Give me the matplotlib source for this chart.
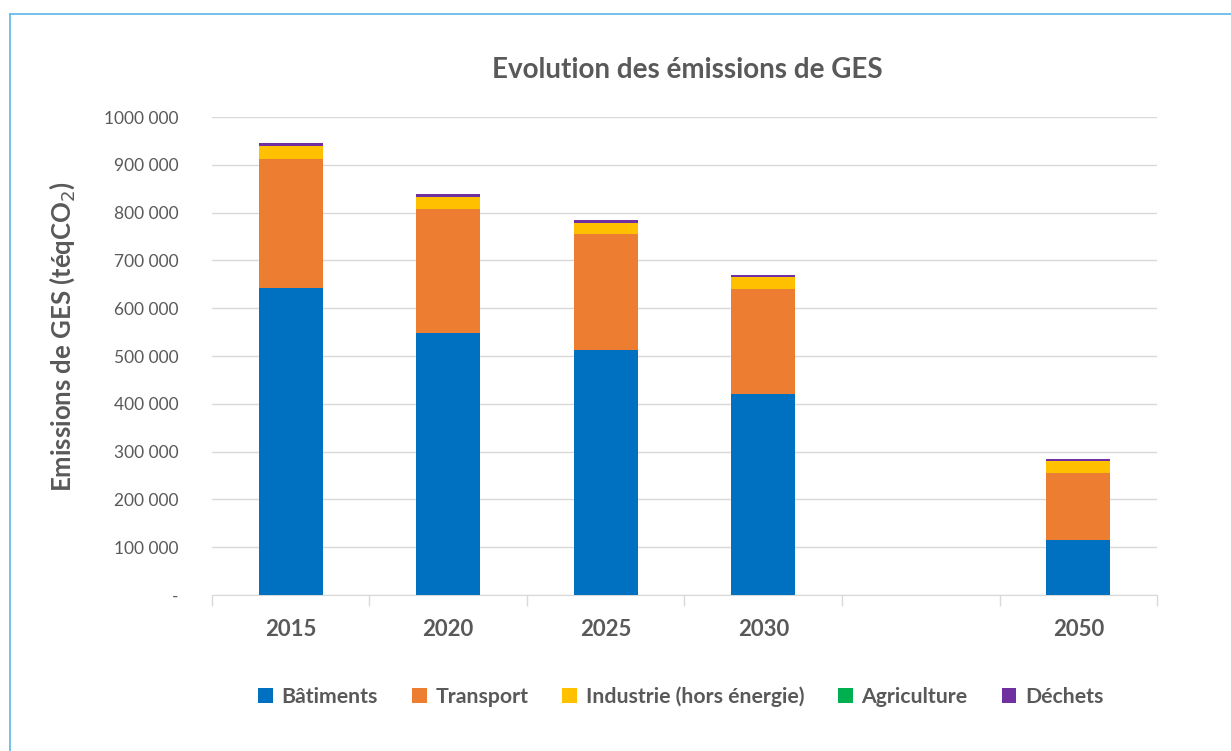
import matplotlib
matplotlib.use('Agg')
import matplotlib.pyplot as plt
import numpy as np
from matplotlib.lines import Line2D

plt.rcParams['font.family'] = ['Lato', 'DejaVu Sans']

# data (téqCO2)
years = ['2015', '2020', '2025', '2030', '', '2050']
batiments = [642000, 549000, 513000, 420000, 0, 115000]
transport = [271000, 258000, 242000, 220000, 0, 140000]
industrie = [27000, 26000, 24000, 25000, 0, 25000]
agriculture = [0, 0, 0, 0, 0, 0]
dechets = [6000, 6000, 6000, 5000, 0, 4000]

series = ['Bâtiments', 'Transport', 'Industrie (hors énergie)', 'Agriculture', 'Déchets']
colors = ['#0070C0', '#ED7D31', '#FFC000', '#00B050', '#7030A0']
yticks = [0, 100000, 200000, 300000, 400000, 500000, 600000, 700000, 800000, 900000, 1000000]
ytick_labels = ['-', '100 000', '200 000', '300 000', '400 000', '500 000',
                '600 000', '700 000', '800 000', '900 000', '1000 000']

grey = '#595959'

fig = plt.figure(figsize=(12.31, 7.51), dpi=100)
ax = fig.add_axes([0.1722, 0.2077, 0.7677, 0.6365])

x = np.arange(len(years))
bottom = np.zeros(len(years))
for name, vals, col in zip(series, [batiments, transport, industrie, agriculture, dechets], colors):
    vals = np.array(vals, dtype=float)
    ax.bar(x, vals, width=0.405, bottom=bottom, color=col, label=name, zorder=3)
    bottom += vals

ax.set_xlim(-0.5, len(years) - 0.5)
ax.set_ylim(0, 1000000)
ax.set_yticks(yticks)
ax.set_yticklabels(ytick_labels)
ax.set_xticks(x)
ax.set_xticklabels(years, fontsize=16, fontweight='bold', color=grey)
ax.set_xticks(np.arange(-0.5, len(years), 1.0), minor=True)
ax.tick_params(axis='x', which='major', length=0, pad=17)
ax.tick_params(axis='x', which='minor', length=8, color='#D9D9D9', width=1)
ax.tick_params(axis='y', length=0, labelsize=12.5, labelcolor=grey, pad=24)

ax.grid(axis='y', color='#D9D9D9', linewidth=1, zorder=0)
for s in ['top', 'right', 'left']:
    ax.spines[s].set_visible(False)
ax.spines['bottom'].set_color('#D9D9D9')

ax.set_ylabel('Emissions de GES (téqCO$_2$)', fontsize=18.5, fontweight='bold',
              color=grey)
ax.yaxis.set_label_coords(-0.143, 0.54)

fig.text(0.5585, 0.907, 'Evolution des émissions de GES', ha='center', va='center',
         fontsize=20, fontweight='bold', color=grey)

leg = fig.legend(loc='center', bbox_to_anchor=(0.553, 0.072), ncol=5, frameon=False,
                 handlelength=0.7, handleheight=0.7, handletextpad=0.4, columnspacing=1.6,
                 prop={'size': 15.3, 'weight': 'bold'})
for t in leg.get_texts():
    t.set_color(grey)

# light blue frame (left and top edges visible)
fig.add_artist(Line2D([0.008, 0.008], [0.0, 0.981], color='#5BB8E6', linewidth=1.2))
fig.add_artist(Line2D([0.008, 1.0], [0.981, 0.981], color='#5BB8E6', linewidth=1.2))

fig.savefig('out.png', dpi=100, facecolor='white')
